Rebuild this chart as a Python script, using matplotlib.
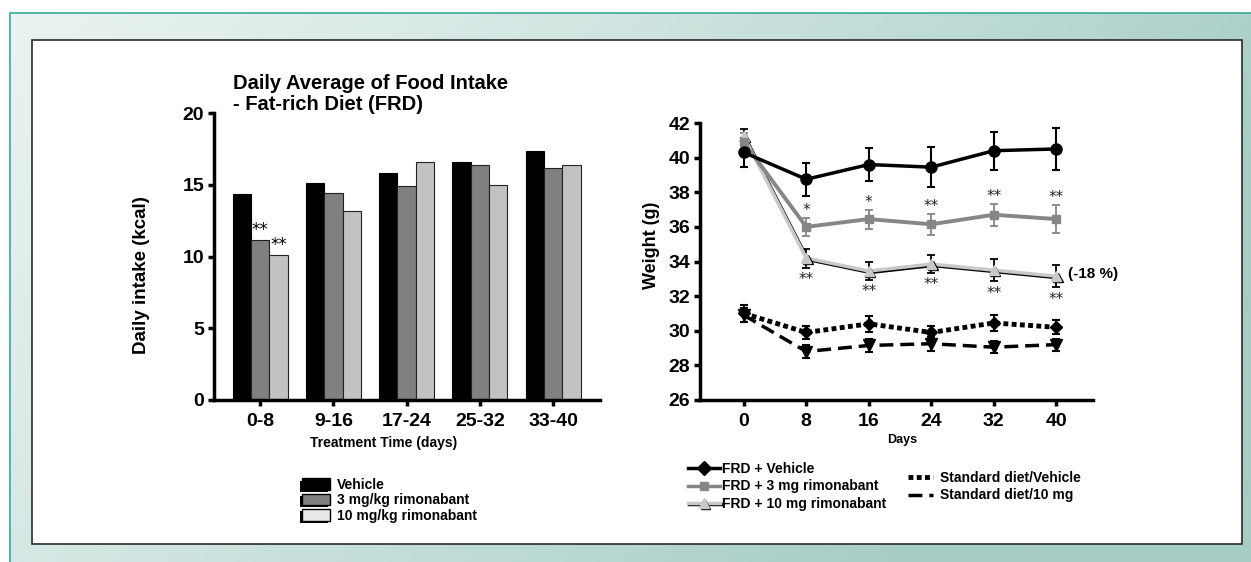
import numpy as np
import matplotlib
matplotlib.use("Agg")
import matplotlib.pyplot as plt
import matplotlib.patheffects as pe
from matplotlib.patches import Patch, Rectangle
from matplotlib.lines import Line2D
from matplotlib.colors import to_rgb

plt.rcParams['font.family'] = ['Liberation Sans', 'DejaVu Sans']
plt.rcParams['font.weight'] = 'bold'
plt.rcParams['axes.labelweight'] = 'bold'

# ---- food intake (left panel) ----
periods = ["0-8", "9-16", "17-24", "25-32", "33-40"]
intake_vehicle = [14.35, 15.15, 15.8, 16.6, 17.35]
intake_3mg = [11.15, 14.45, 14.9, 16.35, 16.2]
intake_10mg = [10.1, 13.15, 16.6, 15.0, 16.35]
intake_stars_3mg = ["**", "", "", "", ""]
intake_stars_10mg = ["**", "", "", "", ""]
intake_labels = ["Vehicle", "3 mg/kg rimonabant", "10 mg/kg rimonabant"]

# ---- body weight (right panel) ----
days = [0, 8, 16, 24, 32, 40]
frd_vehicle = [40.3, 38.75, 39.6, 39.45, 40.4, 40.5]
frd_vehicle_err = [0.85, 0.95, 0.95, 1.15, 1.1, 1.2]
frd_3mg = [40.9, 36.0, 36.45, 36.15, 36.7, 36.45]
frd_3mg_err = [0.5, 0.5, 0.55, 0.6, 0.65, 0.8]
frd_10mg = [41.25, 34.2, 33.45, 33.85, 33.5, 33.15]
frd_10mg_err = [0.4, 0.55, 0.5, 0.5, 0.65, 0.65]
std_vehicle = [31.0, 29.9, 30.4, 29.9, 30.45, 30.2]
std_vehicle_err = [0.5, 0.4, 0.45, 0.4, 0.45, 0.4]
std_10mg = [30.9, 28.8, 29.15, 29.25, 29.05, 29.2]
std_10mg_err = [0.4, 0.35, 0.4, 0.4, 0.35, 0.35]
stars_3mg = ["", "*", "*", "**", "**", "**"]
stars_10mg = ["", "**", "**", "**", "**", "**"]
weight_labels = ["FRD + Vehicle", "FRD + 3 mg rimonabant", "FRD + 10 mg rimonabant"]
std_labels = ["Standard diet/Vehicle", "Standard diet/10 mg"]

W, H = 1251, 562
fig = plt.figure(figsize=(W / 100, H / 100), dpi=100)

# background frame with teal gradient and white panel
bg = fig.add_axes([0, 0, 1, 1], zorder=-10)
bg.set_xlim(0, W)
bg.set_ylim(H, 0)
bg.axis('off')
u = np.linspace(0, 1, 300)[None, :]
v = np.linspace(0, 1, 150)[:, None]
t = np.clip(0.9 * u + 0.35 * v, 0, 1) ** 1.2
light = np.array(to_rgb('#e9f3f1'))
dark = np.array(to_rgb('#a6cdc5'))
grad = light[None, None, :] * (1 - t[..., None]) + dark[None, None, :] * t[..., None]
bg.imshow(grad, extent=(10, W, H, 13), aspect='auto', interpolation='bilinear')
bg.plot([10, 10, W], [H, 13, 13], color='#3aa898', lw=1.2)
bg.add_patch(Rectangle((32, 40), 1210, 504, facecolor='white', edgecolor='#2a2a2a', lw=1.2))


def style_axes(ax):
    ax.patch.set_visible(False)
    for side in ['top', 'right']:
        ax.spines[side].set_visible(False)
    for side in ['left', 'bottom']:
        ax.spines[side].set_linewidth(2.5)
    ax.tick_params(direction='out', length=4, width=2.5, labelsize=14, pad=3)


# ---------- left: bar chart ----------
ax1 = fig.add_axes([214 / W, (H - 400) / H, 386 / W, 287 / H])
style_axes(ax1)
x = np.arange(len(periods))
w = 0.25
ax1.bar(x - w, intake_vehicle, w, color='black', edgecolor='black', lw=0.8)
ax1.bar(x, intake_3mg, w, color='#808080', edgecolor='#222222', lw=0.8)
ax1.bar(x + w, intake_10mg, w, color='#c2c2c2', edgecolor='#222222', lw=0.8)
for i in range(len(periods)):
    if intake_stars_3mg[i]:
        ax1.text(x[i], intake_3mg[i] + 0.05, intake_stars_3mg[i], ha='center', va='bottom',
                 fontsize=12, fontweight='normal', family='DejaVu Sans')
    if intake_stars_10mg[i]:
        ax1.text(x[i] + w, intake_10mg[i] + 0.05, intake_stars_10mg[i], ha='center', va='bottom',
                 fontsize=12, fontweight='normal', family='DejaVu Sans')
ax1.set_xlim(-0.63, 4.64)
ax1.set_ylim(0, 20)
ax1.set_yticks([0, 5, 10, 15, 20])
ax1.set_xticks(x)
ax1.set_xticklabels(periods)
ax1.tick_params(axis='x', pad=5)
ax1.set_ylabel("Daily intake (kcal)", fontsize=13.5)
ax1.yaxis.set_label_coords(-0.166, 0.434)
ax1.set_xlabel("Treatment Time (days)", fontsize=10)
ax1.xaxis.set_label_coords(0.44, -0.125)
fig.text(233 / W, 1 - 74 / H, "Daily Average of Food Intake\n- Fat-rich Diet (FRD)",
         ha='left', va='top', fontsize=14.5, linespacing=1.1)

shadow = [pe.SimplePatchShadow(offset=(-1.5, -1.5), shadow_rgbFace='black', alpha=1), pe.Normal()]
bar_handles = [
    Patch(facecolor='black', edgecolor='black', path_effects=shadow),
    Patch(facecolor='#808080', edgecolor='black', path_effects=shadow),
    Patch(facecolor='#e8e8e8', edgecolor='black', path_effects=shadow),
]
fig.legend(bar_handles, intake_labels, loc='upper left', bbox_to_anchor=(302 / W, 1 - 478 / H),
           frameon=False, fontsize=10, handlelength=2.0, handleheight=0.9, handletextpad=0.5,
           labelspacing=0.1, borderpad=0, borderaxespad=0)

# ---------- right: weight curves ----------
ax2 = fig.add_axes([700 / W, (H - 400) / H, 393 / W, 277 / H])
style_axes(ax2)
dotted = (0, (1, 0.7))
dashed = (0, (4, 2))
ax2.errorbar(days, std_10mg, yerr=std_10mg_err, color='black', marker='v', ms=8, lw=2.5,
             ls=dashed, capsize=3, elinewidth=1.5, capthick=1.5)
ax2.errorbar(days, std_vehicle, yerr=std_vehicle_err, color='black', marker='D', ms=6, lw=3.5,
             ls=dotted, capsize=3, elinewidth=1.5, capthick=1.5)
line10 = ax2.errorbar(days, frd_10mg, yerr=frd_10mg_err, color='#c8c8c8', ecolor='black', marker='^',
                      ms=7, lw=2.5, capsize=3, elinewidth=1.3, capthick=1.3)
line10[0].set_path_effects([pe.SimpleLineShadow(offset=(1, -1), shadow_color='black', alpha=1, rho=1),
                            pe.Normal()])
ax2.errorbar(days, frd_3mg, yerr=frd_3mg_err, color='#868686', marker='s', ms=6, lw=2.8,
             capsize=3, elinewidth=1.3, capthick=1.3)
ax2.errorbar(days, frd_vehicle, yerr=frd_vehicle_err, color='black', marker='o', ms=8, lw=2.5,
             capsize=3, elinewidth=1.5, capthick=1.5)

for i, d in enumerate(days):
    if stars_3mg[i]:
        ax2.annotate(stars_3mg[i], (d, frd_3mg[i] + frd_3mg_err[i]), xytext=(0, 0),
                     textcoords='offset points', ha='center', va='bottom', fontsize=11,
                     fontweight='normal', family='DejaVu Sans', color='#222222')
    if stars_10mg[i]:
        ax2.annotate(stars_10mg[i], (d, frd_10mg[i] - frd_10mg_err[i]), xytext=(0, -3),
                     textcoords='offset points', ha='center', va='top', fontsize=11,
                     fontweight='normal', family='DejaVu Sans', color='#222222')
ax2.text(41.5, 33.3, "(-18 %)", fontsize=11, va='center', ha='left')

ax2.set_xlim(-5.6, 44.7)
ax2.set_ylim(26, 42)
ax2.set_yticks(np.arange(26, 43, 2))
ax2.set_xticks(days)
ax2.tick_params(axis='x', pad=5)
ax2.set_ylabel("Weight (g)", fontsize=13)
ax2.yaxis.set_label_coords(-0.102, 0.56)
ax2.set_xlabel("Days", fontsize=9)
ax2.xaxis.set_label_coords(0.515, -0.123)

line_shadow = [pe.SimpleLineShadow(offset=(1, -1), shadow_color='black', alpha=1, rho=1), pe.Normal()]
weight_handles = [
    Line2D([], [], color='black', lw=2.5, marker='D', ms=7),
    Line2D([], [], color='#868686', lw=2.5, marker='s', ms=6),
    Line2D([], [], color='#c8c8c8', lw=2.5, marker='^', ms=7, path_effects=line_shadow),
]
fig.legend(weight_handles, weight_labels, loc='upper left', bbox_to_anchor=(688 / W, 1 - 462 / H),
           frameon=False, fontsize=10, handlelength=2.3, handletextpad=0.15, labelspacing=0.25,
           borderpad=0, borderaxespad=0)
std_handles = [
    Line2D([], [], color='black', lw=3.5, ls=dotted),
    Line2D([], [], color='black', lw=2.5, ls=dashed),
]
fig.legend(std_handles, std_labels, loc='upper left', bbox_to_anchor=(908 / W, 1 - 471 / H),
           frameon=False, fontsize=10, handlelength=1.8, handletextpad=0.5, labelspacing=0.25,
           borderpad=0, borderaxespad=0)

fig.savefig("out.png", dpi=100)
